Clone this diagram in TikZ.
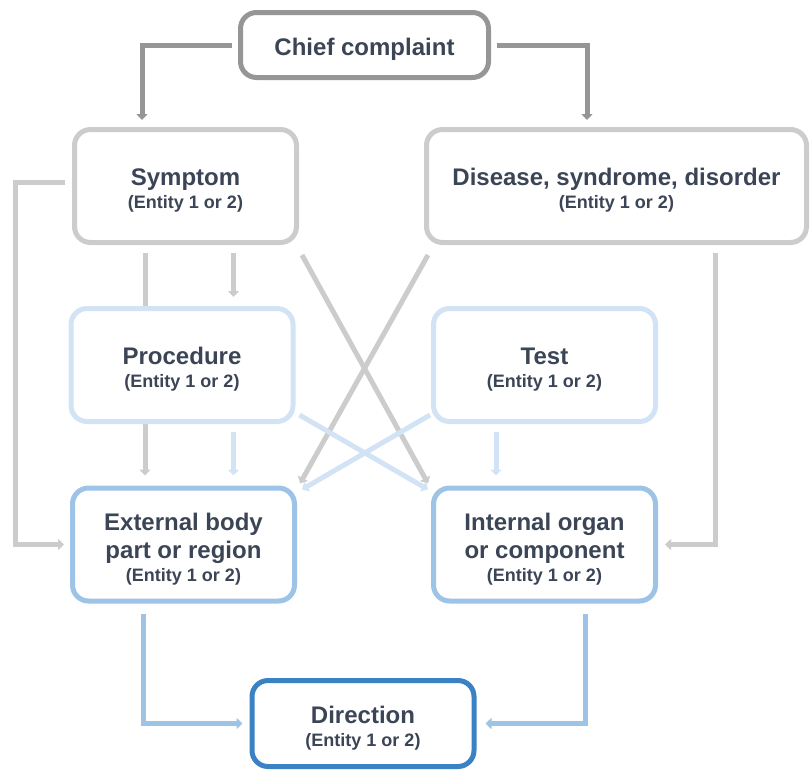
\documentclass[tikz,border=0pt]{standalone}
\usepackage{fontspec}
\setmainfont{Liberation Sans}
\usetikzlibrary{arrows.meta, backgrounds}

\definecolor{txt}{HTML}{3B4556}
\definecolor{dgray}{HTML}{969696}
\definecolor{lgray}{HTML}{CCCCCC}
\definecolor{pblue}{HTML}{D2E3F5}
\definecolor{mblue}{HTML}{9DC3E6}
\definecolor{dblue}{HTML}{3B82C4}
\newcommand{\tstrut}{\rule{0pt}{26pt}}
\newcommand{\enttag}{\\[-5pt]{\fontsize{18}{20}\selectfont (Entity 1 or 2)}}

\begin{document}
\begin{tikzpicture}[x=1pt, y=-1pt,
  box/.style={draw, line width=5pt, rounded corners=16pt, fill=white, align=center, text=txt,
    minimum width=222pt, minimum height=113pt, font=\bfseries\fontsize{24}{28}\selectfont},
  link/.style={line width=5pt, -{Triangle[width=11pt,length=6pt]}}]
  \useasboundingbox (0,0) rectangle (811,769);
  \node[box, draw=dgray, minimum width=248pt, minimum height=65pt] (chief) at (364.5,45) {\tstrut Chief complaint};
  \node[box, draw=lgray] (symptom) at (185.5,186) {\tstrut Symptom\enttag};
  \node[box, draw=lgray, minimum width=380pt] (disease) at (616.5,186) {\tstrut Disease, syndrome, disorder\enttag};
  \node[box, draw=pblue] (procedure) at (182,365) {\tstrut Procedure\enttag};
  \node[box, draw=pblue] (test) at (544.5,365) {\tstrut Test\enttag};
  \node[box, draw=mblue] (external) at (183.5,544.5) {\tstrut External body\\part or region\enttag};
  \node[box, draw=mblue] (internal) at (544.5,544.5) {\tstrut Internal organ\\or component\enttag};
  \node[box, draw=dblue, minimum height=86pt] (direction) at (363,723.5) {\tstrut Direction\enttag};
  \begin{scope}[on background layer]
    % gray links
    \draw[link, dgray] ([xshift=-6pt]chief.west) -| ([xshift=70pt,yshift=7pt]symptom.north west);
    \draw[link, dgray] ([xshift=6pt]chief.east) -| ([xshift=163pt,yshift=7pt]disease.north west);
    \draw[link, lgray] ([xshift=-7pt,yshift=4pt]symptom.west) -- ++(-50,0) |- ([xshift=-6pt]external.west);
    \draw[link, lgray] ([xshift=73pt,yshift=-8pt]symptom.south west) -- ([xshift=75pt,yshift=10pt]external.north west);
    \draw[link, lgray] ([xshift=161.5pt,yshift=-8pt]symptom.south west) -- ([xshift=165pt,yshift=9pt]procedure.north west);
    \draw[link, lgray] ([xshift=3pt,yshift=-10pt]symptom.south east) -- ([xshift=-3pt,yshift=2pt]internal.north west);
    \draw[link, lgray] ([xshift=4pt,yshift=-10pt]disease.south west) -- ([xshift=3pt,yshift=2pt]external.north east);
    \draw[link, lgray] ([xshift=291pt,yshift=-8pt]disease.south west) |- ([xshift=7pt]internal.east);
    % blue links
    \draw[link, pblue] ([xshift=165pt,yshift=-8pt]procedure.south west) -- ([xshift=163.5pt,yshift=10pt]external.north west);
    \draw[link, pblue] ([xshift=65pt,yshift=-8pt]test.south west) -- ([xshift=65pt,yshift=10pt]internal.north west);
    \draw[link, pblue] ([xshift=4pt,yshift=9pt]procedure.south east) -- ([xshift=-3pt,yshift=-4pt]internal.north west);
    \draw[link, pblue] ([xshift=-1pt,yshift=9pt]test.south west) -- ([xshift=5pt,yshift=-4pt]external.north east);
    \draw[link, mblue] ([xshift=73pt,yshift=-10pt]external.south west) |- ([xshift=-7pt]direction.west);
    \draw[link, mblue] ([xshift=154pt,yshift=-10pt]internal.south west) |- ([xshift=9pt]direction.east);
  \end{scope}
\end{tikzpicture}
\end{document}
